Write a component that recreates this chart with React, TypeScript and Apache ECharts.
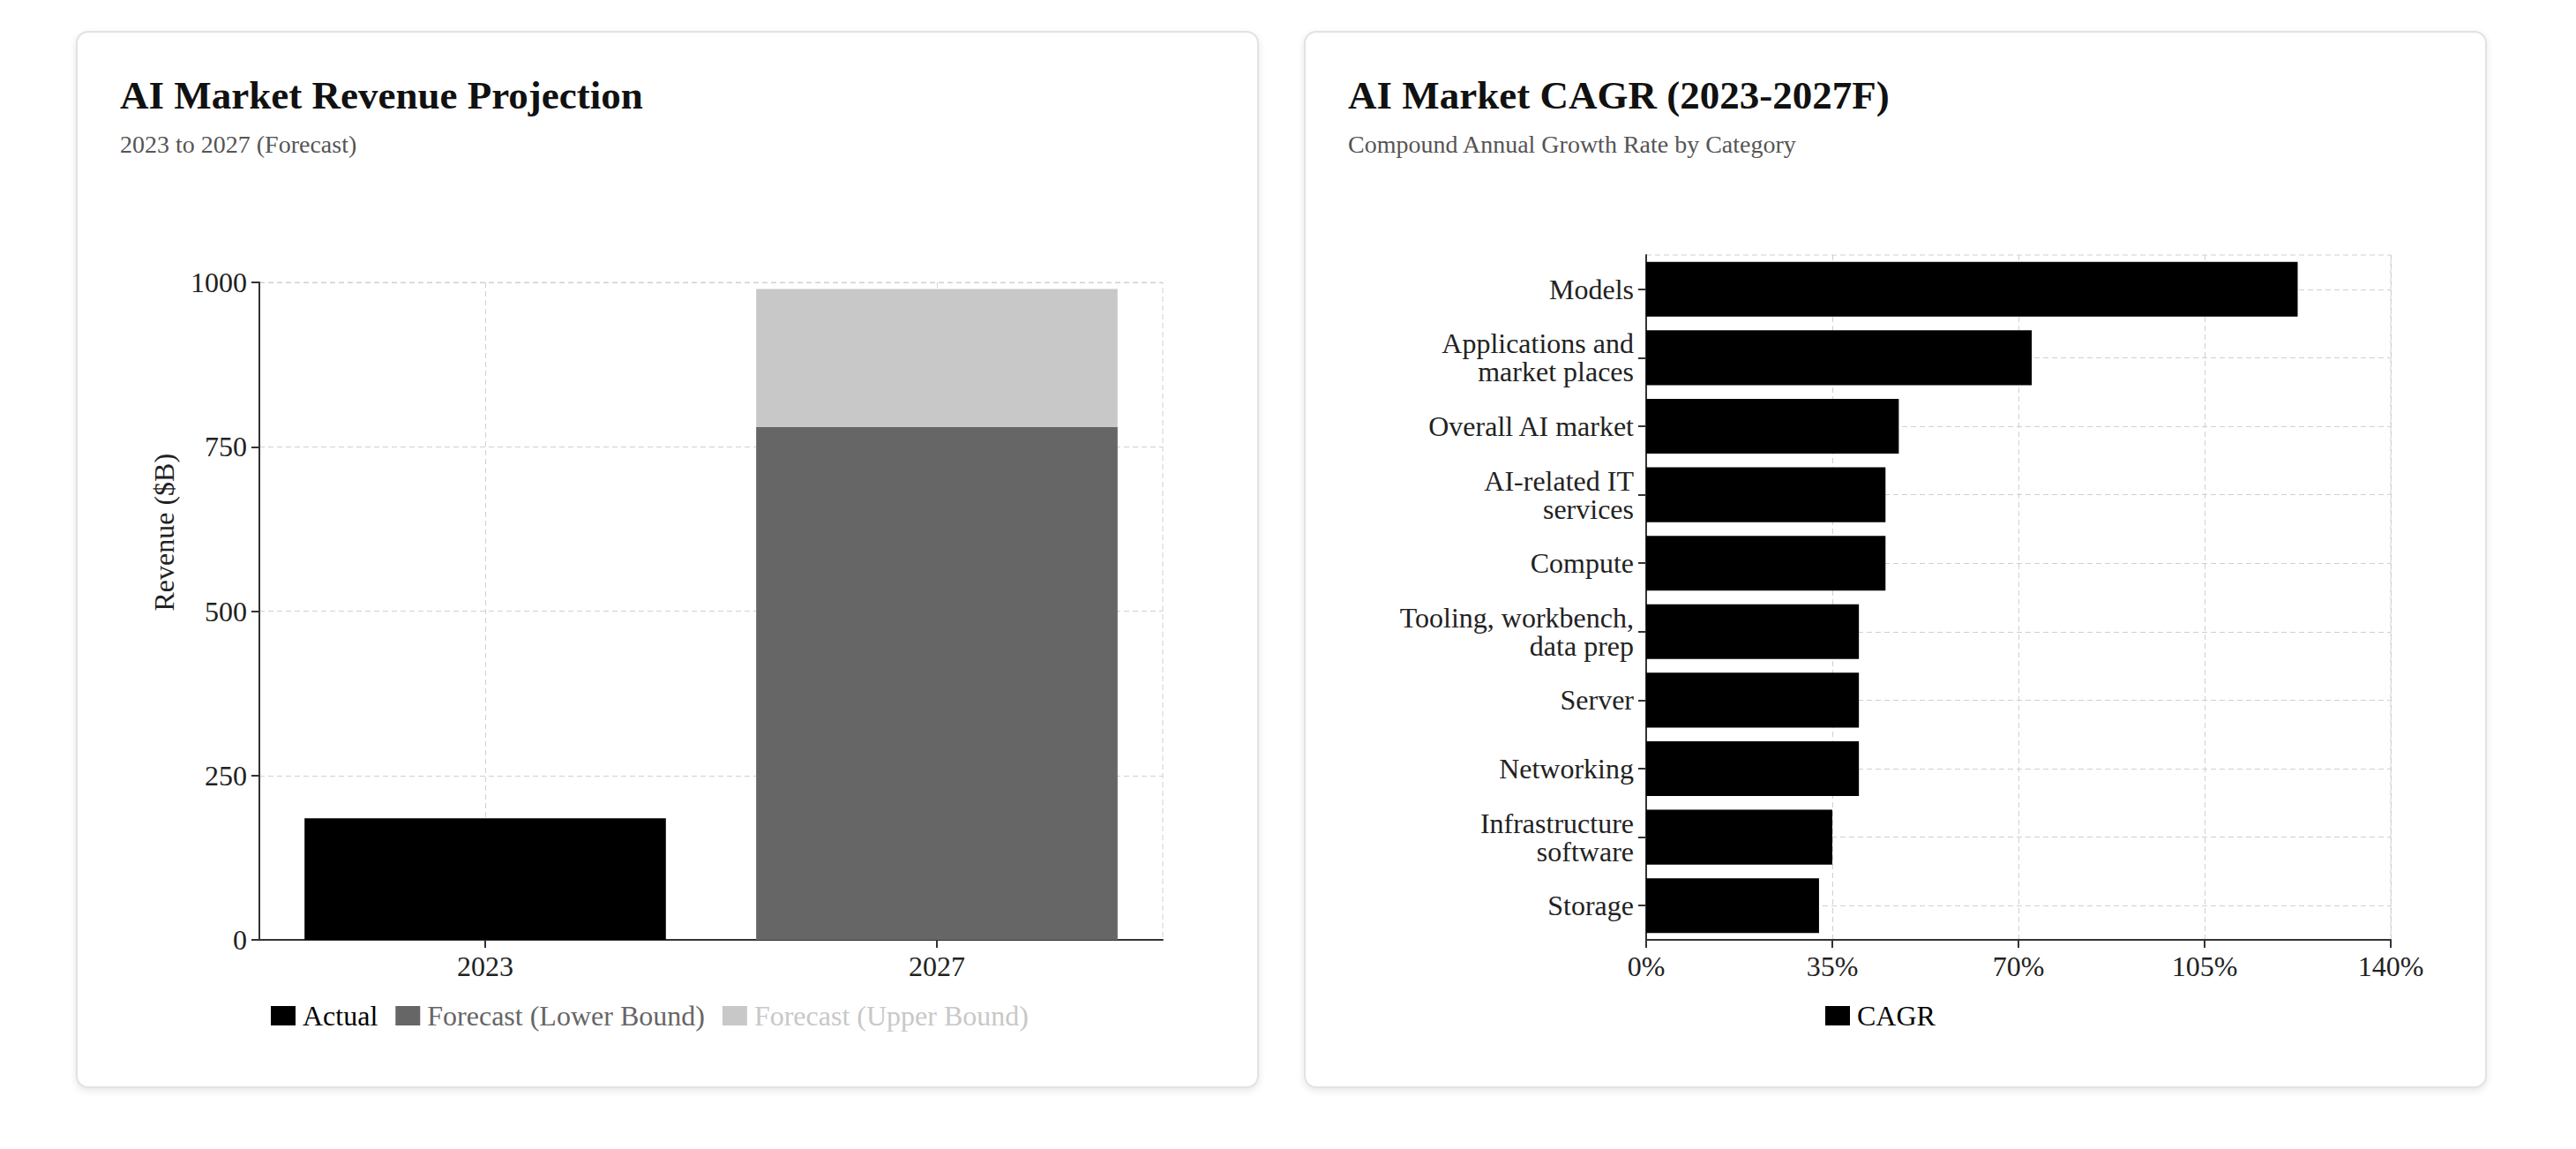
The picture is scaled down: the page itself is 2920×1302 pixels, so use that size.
import React, { useEffect, useRef } from 'react';
import * as echarts from 'echarts';

// ---------- data ----------
const years = ['2023', '2027'];
const actualRevenue = [185, null];
const forecastLower = [null, 780];
const forecastUpper = [null, 990];

const cagrCategories = [
  'Models',
  'Applications and\nmarket places',
  'Overall AI market',
  'AI-related IT\nservices',
  'Compute',
  'Tooling, workbench,\ndata prep',
  'Server',
  'Networking',
  'Infrastructure\nsoftware',
  'Storage',
];
const cagrValues = [122.5, 72.5, 47.5, 45, 45, 40, 40, 40, 35, 32.5];

// ---------- styles ----------
const FONT = "'Liberation Serif', 'Times New Roman', serif";
const CARD_W = 1341;
const CARD_H = 1198;
const CARD_TOP = 35;
const CARD1_LEFT = 86;
const CARD2_LEFT = 1478;
const GRID_COLOR = '#d0d0d0';
const AXIS_COLOR = '#333';
const LABEL_COLOR = '#222';
const FS = 32;

const titleBlock = (text: string, sub: string) => [
  {
    text,
    left: 45,
    top: 45,
    textStyle: { fontFamily: FONT, fontSize: 45, fontWeight: 'bold', color: '#111' },
  },
  {
    text: sub,
    left: 45,
    top: 109,
    textStyle: { fontFamily: FONT, fontSize: 28, fontWeight: 'normal', color: '#555' },
  },
];

const splitLineStyle = { color: GRID_COLOR, width: 1, type: [6, 4] as any };

function revenueOption(): any {
  return {
    animation: false,
    title: titleBlock('AI Market Revenue Projection', '2023 to 2027 (Forecast)'),
    grid: {
      left: 208,
      top: 285,
      width: 1024,
      height: 745,
      show: true,
      backgroundColor: 'transparent',
      borderColor: GRID_COLOR,
      borderWidth: 1,
      borderType: [6, 4],
    },
    legend: {
      left: 216,
      top: 1095,
      icon: 'rect',
      itemWidth: 28,
      itemHeight: 22,
      itemGap: 20,
      textStyle: { fontFamily: FONT, fontSize: FS, padding: [0, 0, 0, 3] },
      data: [
        { name: 'Actual', textStyle: { color: '#000' } },
        { name: 'Forecast (Lower Bound)', textStyle: { color: '#666' } },
        { name: 'Forecast (Upper Bound)', textStyle: { color: '#c8c8c8' } },
      ],
      selectedMode: false,
    },
    xAxis: {
      type: 'category',
      data: years,
      axisLine: { lineStyle: { color: AXIS_COLOR, width: 2 } },
      axisTick: { show: true, alignWithLabel: true, length: 9, lineStyle: { color: AXIS_COLOR, width: 2 } },
      axisLabel: { fontFamily: FONT, fontSize: FS, color: LABEL_COLOR, margin: 14 },
      splitLine: { show: true, alignWithLabel: true, interval: 0, lineStyle: splitLineStyle },
    },
    yAxis: {
      type: 'value',
      min: 0,
      max: 1000,
      interval: 250,
      name: 'Revenue ($B)',
      nameLocation: 'middle',
      nameRotate: 90,
      nameGap: 108,
      nameTextStyle: { fontFamily: FONT, fontSize: FS, color: LABEL_COLOR, align: 'left', verticalAlign: 'middle' },
      axisLine: { show: true, lineStyle: { color: AXIS_COLOR, width: 2 } },
      axisTick: { show: true, length: 9, lineStyle: { color: AXIS_COLOR, width: 2 } },
      axisLabel: {
        fontFamily: FONT,
        fontSize: FS,
        color: LABEL_COLOR,
        margin: 14,
        formatter: (v: number) => String(v),
      },
      splitLine: { show: true, lineStyle: splitLineStyle },
    },
    series: [
      {
        name: 'Actual',
        type: 'bar',
        data: actualRevenue,
        barCategoryGap: '20%',
        barGap: '-100%',
        itemStyle: { color: '#000' },
        z: 3,
      },
      {
        name: 'Forecast (Lower Bound)',
        type: 'bar',
        data: forecastLower,
        barCategoryGap: '20%',
        barGap: '-100%',
        itemStyle: { color: '#666' },
        z: 4,
      },
      {
        name: 'Forecast (Upper Bound)',
        type: 'bar',
        data: forecastUpper,
        barCategoryGap: '20%',
        barGap: '-100%',
        itemStyle: { color: '#c8c8c8' },
        z: 2,
      },
    ],
  };
}

function cagrOption(): any {
  return {
    animation: false,
    title: titleBlock('AI Market CAGR (2023-2027F)', 'Compound Annual Growth Rate by Category'),
    grid: {
      left: 388,
      top: 254,
      width: 844,
      height: 776,
      show: true,
      backgroundColor: 'transparent',
      borderColor: GRID_COLOR,
      borderWidth: 1,
      borderType: [6, 4],
    },
    legend: {
      left: 586,
      top: 1095,
      icon: 'rect',
      itemWidth: 28,
      itemHeight: 22,
      textStyle: { fontFamily: FONT, fontSize: FS, color: '#000', padding: [0, 0, 0, 3] },
      data: ['CAGR'],
      selectedMode: false,
    },
    xAxis: {
      type: 'value',
      min: 0,
      max: 140,
      interval: 35,
      axisLine: { show: true, lineStyle: { color: AXIS_COLOR, width: 2 } },
      axisTick: { show: true, length: 9, lineStyle: { color: AXIS_COLOR, width: 2 } },
      axisLabel: { fontFamily: FONT, fontSize: FS, color: LABEL_COLOR, margin: 14, formatter: '{value}%' },
      splitLine: { show: true, lineStyle: splitLineStyle },
    },
    yAxis: {
      type: 'category',
      data: cagrCategories,
      inverse: true,
      axisLine: { show: true, lineStyle: { color: AXIS_COLOR, width: 2 } },
      axisTick: { show: true, alignWithLabel: true, length: 9, lineStyle: { color: AXIS_COLOR, width: 2 } },
      axisLabel: { fontFamily: FONT, fontSize: FS, color: LABEL_COLOR, margin: 14, lineHeight: 32, align: 'right' },
      splitLine: { show: true, alignWithLabel: true, interval: 0, lineStyle: splitLineStyle },
    },
    series: [
      {
        name: 'CAGR',
        type: 'bar',
        data: cagrValues,
        barCategoryGap: '20%',
        itemStyle: { color: '#000' },
      },
    ],
  };
}

function Chart({ option, left }: { option: any; left: number }) {
  const ref = useRef<HTMLDivElement>(null);
  useEffect(() => {
    if (!ref.current) return;
    const chart = echarts.init(ref.current, undefined, { renderer: 'svg' });
    chart.setOption(option);
    return () => chart.dispose();
  }, [option]);
  return (
    <>
      <div
        style={{
          position: 'absolute',
          left,
          top: CARD_TOP,
          width: CARD_W,
          height: CARD_H,
          boxSizing: 'border-box',
          border: '2px solid #e2e2e2',
          borderRadius: 14,
          background: '#fff',
          boxShadow: '0 3px 8px rgba(0,0,0,0.10)',
        }}
      />
      <div
        ref={ref}
        style={{ position: 'absolute', left, top: CARD_TOP, width: CARD_W, height: CARD_H }}
      />
    </>
  );
}

const revOpt = revenueOption();
const cagrOpt = cagrOption();

export default function App() {
  return (
    <div style={{ position: 'absolute', left: 0, top: 0, width: 2920, height: 1302, background: '#fff' }}>
      <Chart option={revOpt} left={CARD1_LEFT} />
      <Chart option={cagrOpt} left={CARD2_LEFT} />
    </div>
  );
}
